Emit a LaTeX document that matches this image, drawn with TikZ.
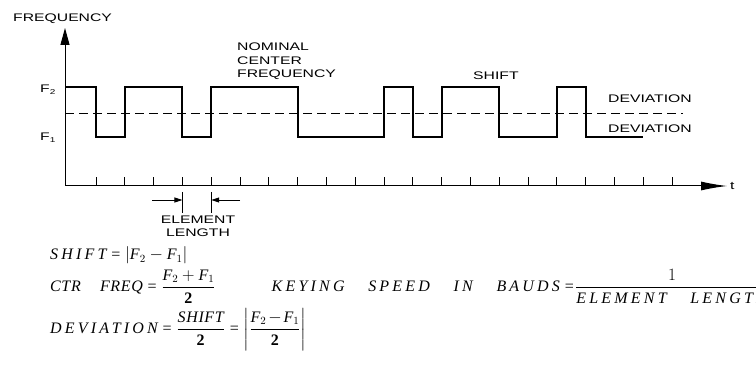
\documentclass[tikz,border=0pt]{standalone}
\usepackage{amsmath}
\usepackage{graphicx}
\usepackage{fontspec}
\setmainfont{Liberation Serif}
\newfontfamily\lbl{Liberation Sans}
\newfontfamily\eqfont[LetterSpace=20]{Liberation Serif}
\newfontfamily\eqtight[LetterSpace=4]{Liberation Serif}
\usetikzlibrary{arrows.meta}
\newcommand\V[1]{\mbox{\eqfont\itshape #1}}
\newcommand\Vt[1]{\mbox{\eqtight\itshape #1}}
\newcommand\B[1]{\mbox{\bfseries #1}}
\newcommand\W[1]{\scalebox{1.43}[1]{#1}}
\newcommand\wsp{\quad\,\;}
\newcommand\mn{\mathbin{\mkern-2mu-\mkern-2mu}}
\newcommand\eqs{\mathrel{\mbox{=}}}
\begin{document}
\begin{tikzpicture}[x=1pt,y=-1pt,
  lab/.style={font=\lbl\fontsize{11}{13.5}\selectfont, inner sep=0pt, anchor=base west},
  eq/.style={font=\fontsize{16}{19}\selectfont, inner sep=0pt, anchor=base west},
  sig/.style={line width=1.9pt, line join=miter},
  axisline/.style={line width=1pt},
  tickline/.style={line width=0.9pt},
  midline/.style={line width=0.9pt, dash pattern=on 9pt off 5pt}]
\clip (0,0) rectangle (756,379);
\fill[white] (0,0) rectangle (756,379);

% axes
\coordinate (O) at (65,186);
\coordinate (ytop) at (65,28);
\coordinate (xend) at (727,186);
\draw[axisline, -{Triangle[length=17pt,width=9pt]}] (O) -- (ytop);
\draw[axisline, -{Latex[length=26pt,width=9pt]}] (O) -- (xend);
\node[lab] (t) at (730,190) {\W{t}};
\node[lab] (freqlbl) at (13,22) {\W{FREQUENCY}};

% ticks
\foreach \k in {0,...,20} \draw[tickline] ({96+28.8*\k},186) -- ++(0,-9);

% signal
\draw[sig] (65,87) -- (96,87) -- (96,137) -- (124.8,137) -- (124.8,87)
  -- (182.4,87) -- (182.4,137) -- (211.2,137) -- (211.2,87)
  -- (297.6,87) -- (297.6,137) -- (384,137) -- (384,87)
  -- (412.8,87) -- (412.8,137) -- (441.6,137) -- (441.6,87)
  -- (499.2,87) -- (499.2,137) -- (556.8,137) -- (556.8,87)
  -- (585.6,87) -- (585.6,137) -- (643.2,137);
\draw[midline] (65,113) -- (683,113);

% level labels
\node[lab] (f2) at (40,93) {\W{F\raisebox{-1.5pt}{\fontsize{7}{8}\selectfont 2}}};
\node[lab] (f1) at (40,141) {\W{F\raisebox{-1.5pt}{\fontsize{7}{8}\selectfont 1}}};
\node[lab] (nom1) at (237,51) {\W{NOMINAL}};
\node[lab] (nom2) at (237,65) {\W{CENTER}};
\node[lab] (nom3) at (237,78) {\W{FREQUENCY}};
\node[lab] (shiftlbl) at (473,80) {\W{SHIFT}};
\node[lab] (dev1) at (608,103) {\W{DEVIATION}};
\node[lab] (dev2) at (608,133) {\W{DEVIATION}};

% element length
\coordinate (ea1) at (182.4,192);
\coordinate (ea2) at (182.4,213);
\coordinate (eb1) at (211.2,192);
\coordinate (eb2) at (211.2,213);
\coordinate (la) at (152,200);
\coordinate (lat) at (182.4,200);
\coordinate (lb) at (240,200);
\coordinate (lbt) at (211.2,200);
\draw[tickline] (ea1) -- (ea2);
\draw[tickline] (eb1) -- (eb2);
\draw[tickline, -{Triangle[length=8pt,width=5pt]}] (la) -- (lat);
\draw[tickline, -{Triangle[length=8pt,width=5pt]}] (lb) -- (lbt);
\node[lab, anchor=base] (el1) at (198,224) {\W{ELEMENT}};
\node[lab, anchor=base] (el2) at (198,237) {\W{LENGTH}};

% formulas
\node[eq] (shifteq) at (50,260) {$\V{SHIFT} \eqs \lvert\V{F}_2 - \V{F}_1\rvert$};
\node[eq] (ctreq) at (50,292) {$\Vt{CTR}\;\;\;\;\Vt{FREQ} \eqs \dfrac{\V{F}_2 + \V{F}_1}{\B{2}}$};
\node[eq, anchor=base east] (keyw) at (574,292) {$\V{KEYING}\wsp\V{SPEED}\wsp\V{IN}\wsp\V{BAUDS} \eqs$};
\node[eq] (keyf) at (575,292) {$\dfrac{1}{\V{ELEMENT}\wsp\V{LENGTH}}$};
\node[eq] (deveq) at (50,334) {$\V{DEVIATION} \eqs \dfrac{\Vt{SHIFT}}{\B{2}} \eqs \left\lvert\dfrac{\V{F}_2\mn\V{F}_1}{\B{2}}\right\rvert$};
\end{tikzpicture}
\end{document}
